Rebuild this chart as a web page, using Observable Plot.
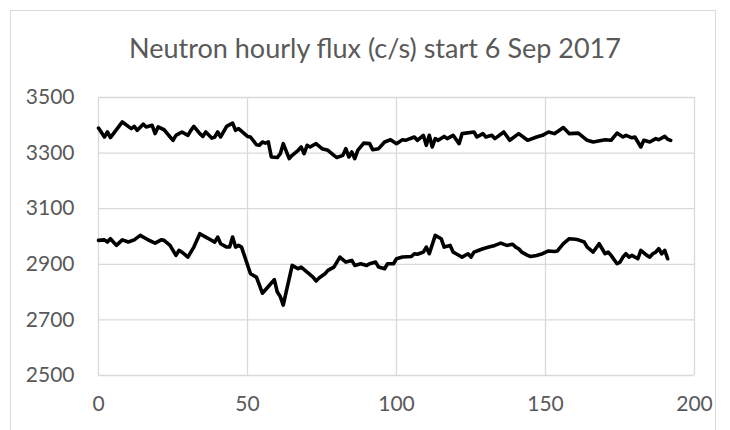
<!DOCTYPE html>
<html><head><meta charset="utf-8">
<script src="https://cdn.jsdelivr.net/npm/d3@7"></script>
<script src="https://cdn.jsdelivr.net/npm/@observablehq/plot@0.6"></script>
<style>
body{margin:0;background:#fff;}
#wrap{position:relative;width:730px;height:430px;overflow:hidden;font-family:Lato,"Open Sans",sans-serif;}
#frame{position:absolute;left:10px;top:10px;width:706px;height:440px;border:1px solid #d9d9d9;box-sizing:border-box;}
#title{position:absolute;left:10px;top:33px;width:730px;text-align:center;font-size:27px;line-height:30px;color:#595959;}
#chart{position:absolute;left:0;top:0;}
</style></head>
<body>
<div id="wrap"><div id="frame"></div><div id="chart"></div><div id="title">Neutron hourly flux (c/s) start 6 Sep 2017</div></div>
<script>
const titleText = "Neutron hourly flux (c/s) start 6 Sep 2017";
const xTicks = [0, 50, 100, 150, 200];
const yTicks = [2500, 2700, 2900, 3100, 3300, 3500];

const upperHours = [0,2,3,4,8,11,12,13,15,16,18,19,20,22,25,26,27,28,30,31,32,34,35,36,38,39,40,41,43,45,46,47,50,51,53,54,55,56,57,58,60,61,62,64,65,67,68,69,70,71,73,75,77,79,80,82,83,84,85,86,87,89,91,92,94,96,98,100,102,103,106,107,109,110,111,112,113,114,116,117,119,121,122,126,127,129,130,132,133,136,138,141,144,147,149,151,153,156,158,161,164,166,170,172,174,176,177,179,180,182,183,185,187,188,190,191,192];
const upperFlux = [3390,3358,3376,3356,3412,3388,3396,3382,3404,3394,3400,3370,3394,3384,3346,3364,3370,3376,3364,3382,3396,3370,3360,3376,3354,3358,3376,3358,3396,3408,3382,3388,3360,3358,3330,3328,3340,3336,3340,3286,3284,3298,3334,3280,3292,3310,3322,3298,3328,3322,3334,3316,3310,3292,3284,3292,3316,3286,3304,3280,3310,3336,3334,3312,3316,3340,3348,3334,3348,3346,3358,3346,3364,3328,3364,3322,3352,3346,3360,3352,3364,3334,3370,3376,3358,3370,3358,3364,3352,3376,3346,3370,3346,3358,3364,3376,3370,3392,3370,3372,3346,3340,3348,3346,3372,3358,3364,3355,3358,3322,3346,3340,3352,3348,3360,3350,3346];

const lowerHours = [0,2,3,4,6,8,10,12,14,16,17,19,21,22,24,26,27,28,30,32,34,36,37,39,40,41,43,44,45,46,47,48,51,53,55,57,59,60,61,62,63,65,66,67,68,70,72,73,74,76,77,79,81,83,85,86,88,90,91,93,94,96,97,99,100,102,105,106,107,109,110,111,113,115,116,118,119,120,122,124,125,126,127,129,131,133,135,137,139,140,141,142,144,145,147,149,151,153,154,156,158,160,161,163,164,166,168,169,170,171,172,174,175,176,177,178,179,181,182,184,185,186,187,188,189,190,191];
const lowerFlux = [2986,2988,2980,2992,2968,2988,2980,2988,3004,2992,2986,2976,2988,2986,2968,2932,2950,2944,2926,2962,3010,2998,2992,2980,2998,2974,2962,2962,2998,2962,2968,2962,2866,2854,2796,2820,2845,2800,2784,2753,2802,2896,2890,2884,2890,2872,2854,2840,2851,2866,2878,2890,2926,2908,2914,2896,2902,2896,2902,2908,2890,2884,2902,2902,2920,2926,2928,2938,2936,2944,2962,2938,3004,2992,2962,2968,2944,2938,2926,2938,2926,2944,2948,2956,2962,2968,2976,2968,2972,2962,2956,2944,2932,2928,2932,2938,2948,2946,2948,2974,2992,2990,2988,2980,2962,2944,2974,2956,2938,2944,2932,2902,2908,2926,2938,2926,2932,2920,2950,2932,2926,2938,2944,2956,2938,2950,2920];

const upper = upperHours.map((h, i) => ({hour: h, flux: upperFlux[i]}));
const lower = lowerHours.map((h, i) => ({hour: h, flux: lowerFlux[i]}));

const gridStyle = {stroke: "#d9d9d9", strokeOpacity: 1, strokeWidth: 1.3};
const lineStyle = {x: "hour", y: "flux", stroke: "#000", strokeWidth: 3.6, strokeLinejoin: "round", strokeLinecap: "round"};

const chart = Plot.plot({
  width: 730,
  height: 430,
  marginLeft: 98,
  marginRight: 36,
  marginTop: 97,
  marginBottom: 55,
  style: {fontFamily: "Lato, 'Open Sans', sans-serif", fontSize: "21px", color: "#595959", background: "transparent"},
  x: {domain: [0, 200], label: null},
  y: {domain: [2500, 3500], label: null},
  marks: [
    Plot.gridX(xTicks, gridStyle),
    Plot.gridY(yTicks, gridStyle),
    Plot.axisX(xTicks, {tickSize: 0, tickPadding: 21, label: null, fill: "#595959", tickFormat: d => String(d)}),
    Plot.axisY(yTicks, {tickSize: 0, tickPadding: 24, label: null, fill: "#595959", tickFormat: d => String(d)}),
    Plot.line(upper, lineStyle),
    Plot.line(lower, lineStyle)
  ]
});
document.getElementById("chart").appendChild(chart);
document.getElementById("title").textContent = titleText;
</script>
</body></html>
